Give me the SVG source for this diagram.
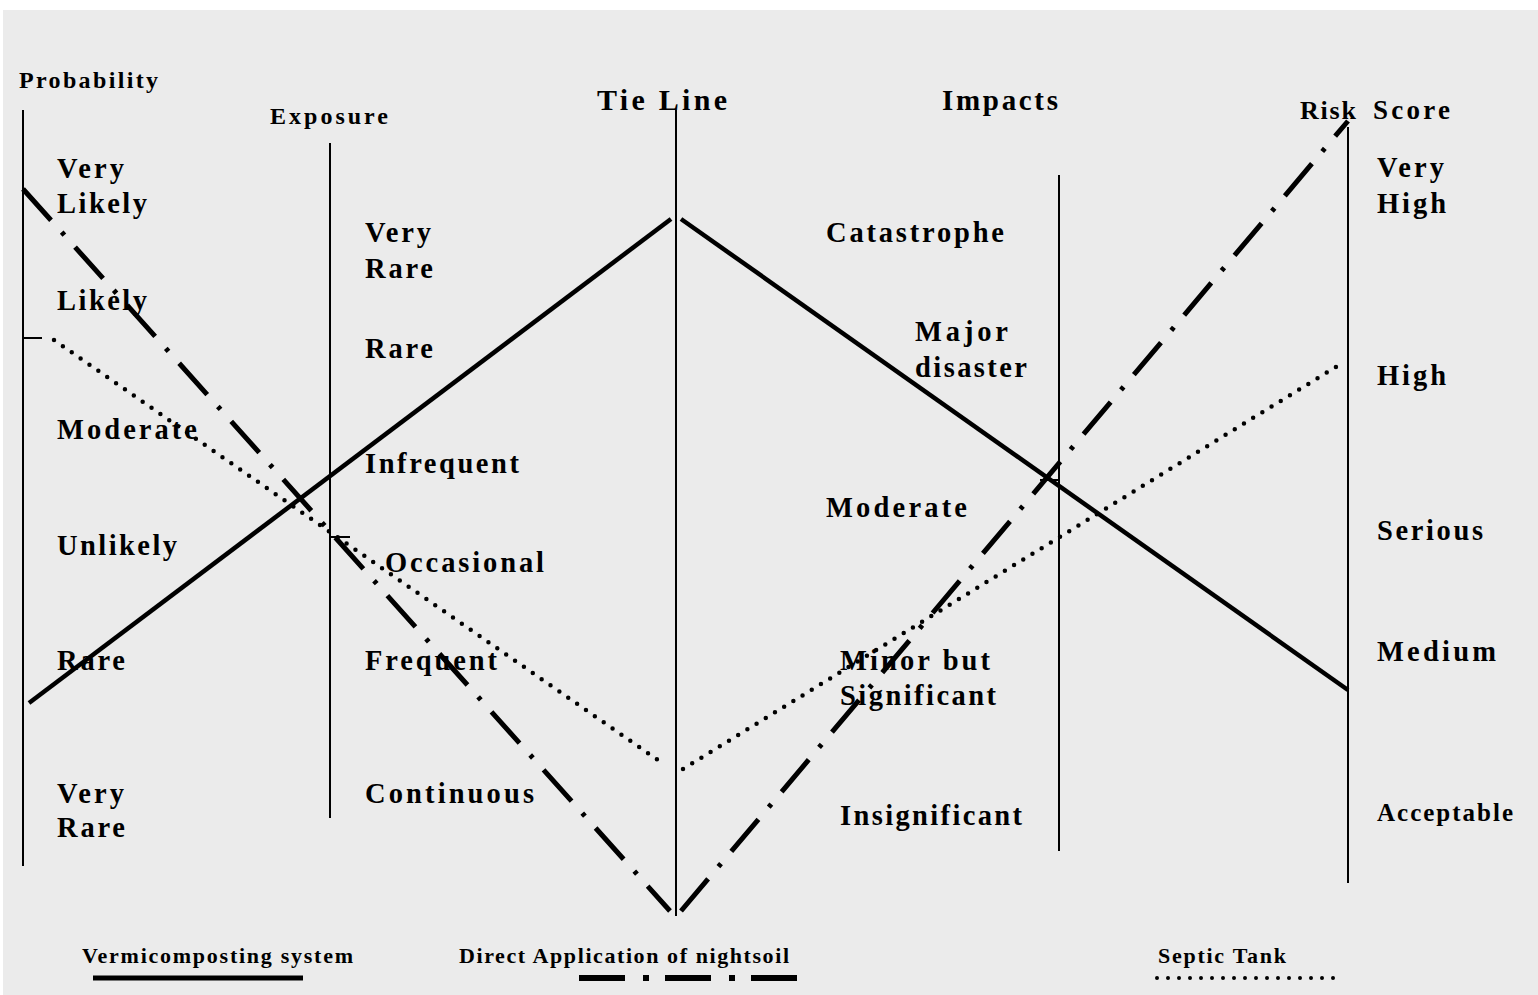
<svg xmlns="http://www.w3.org/2000/svg" width="1538" height="995" viewBox="0 0 1538 995">
<style>
text{font-family:"Liberation Serif","Times New Roman",serif;font-weight:bold;fill:#000}
.lab{font-size:28.5px}
.ttl{font-size:24px}
.leg{font-size:22px}
.axis{stroke:#000;stroke-width:2;fill:none}
.solid{stroke:#000;stroke-width:4.5;fill:none}
.dashdot{stroke:#000;stroke-width:5;fill:none;stroke-dasharray:42 16 4 16}
.dotted{stroke:#000;stroke-width:4.5;fill:none;stroke-linecap:round;stroke-dasharray:0 10.8}
</style>
<rect x="0" y="0" width="1538" height="995" fill="#ffffff"/>
<rect x="3" y="10" width="1535" height="985" fill="#ebebeb"/>

<g id="probability">
<line class="axis" x1="23" y1="110" x2="23" y2="866"/>
<line class="axis" x1="23" y1="338" x2="42" y2="338"/>
<text class="ttl" x="19" y="88" textLength="139">Probability</text>
<text class="lab" x="57" y="178" textLength="67">Very</text>
<text class="lab" x="57" y="213" textLength="90">Likely</text>
<text class="lab" x="57" y="310" textLength="90">Likely</text>
<text class="lab" x="57" y="439" textLength="140">Moderate</text>
<text class="lab" x="57" y="555" textLength="120">Unlikely</text>
<text class="lab" x="57" y="670" textLength="68">Rare</text>
<text class="lab" x="57" y="803" textLength="67">Very</text>
<text class="lab" x="57" y="837" textLength="68">Rare</text>
</g>

<g id="exposure">
<line class="axis" x1="330" y1="143" x2="330" y2="818"/>
<line class="axis" x1="330" y1="537" x2="350" y2="537"/>
<text class="ttl" x="270" y="124" textLength="118">Exposure</text>
<text class="lab" x="365" y="242" textLength="66">Very</text>
<text class="lab" x="365" y="278" textLength="68">Rare</text>
<text class="lab" x="365" y="358" textLength="68">Rare</text>
<text class="lab" x="365" y="473" textLength="154">Infrequent</text>
<text class="lab" x="385" y="572" textLength="159">Occasional</text>
<text class="lab" x="365" y="670" textLength="132">Frequent</text>
<text class="lab" x="365" y="803" textLength="169">Continuous</text>
</g>

<g id="tie-line">
<line class="axis" x1="676" y1="110" x2="676" y2="916"/>
<text class="lab" x="597" y="110" style="font-size:30px" textLength="130">Tie Line</text>
</g>

<g id="impacts">
<line class="axis" x1="1059" y1="175" x2="1059" y2="851"/>
<line class="axis" x1="1040" y1="480" x2="1059" y2="480"/>
<text class="lab" x="942" y="110" style="font-size:29px" textLength="116">Impacts</text>
<text class="lab" x="826" y="242" textLength="178">Catastrophe</text>
<text class="lab" x="915" y="341" textLength="93">Major</text>
<text class="lab" x="915" y="377" textLength="112">disaster</text>
<text class="lab" x="826" y="517" textLength="141">Moderate</text>
<text class="lab" x="840" y="670" textLength="150">Minor but</text>
<text class="lab" x="840" y="705" textLength="156">Significant</text>
<text class="lab" x="840" y="825" textLength="182">Insignificant</text>
</g>

<g id="risk-score">
<line class="axis" x1="1348" y1="127" x2="1348" y2="883"/>
<text class="lab" x="1300" y="119" style="font-size:26px" textLength="56">Risk</text>
<text class="lab" x="1373" y="119" style="font-size:27px" textLength="77">Score</text>
<text class="lab" x="1377" y="177" textLength="67">Very</text>
<text class="lab" x="1377" y="213" textLength="69">High</text>
<text class="lab" x="1377" y="385" textLength="69">High</text>
<text class="lab" x="1377" y="540" textLength="106">Serious</text>
<text class="lab" x="1377" y="661" textLength="119">Medium</text>
<text class="lab" x="1377" y="821" style="font-size:25px" textLength="136">Acceptable</text>
</g>

<g id="connectors">
<polyline class="solid" points="29,703 671,219"/>
<polyline class="solid" points="681,219 1348,690"/>
<polyline class="dashdot" points="23,189 670,911"/>
<polyline class="dashdot" points="681,911 1348,121"/>
<polyline class="dotted" points="54,340 665,765"/>
<polyline class="dotted" points="683,769 1339,365"/>
</g>

<g id="legend">
<text class="leg" x="82" y="963" textLength="271">Vermicomposting system</text>
<line class="solid" x1="93" y1="978" x2="303" y2="978" style="stroke-width:5"/>
<text class="leg" x="459" y="963" textLength="330">Direct Application of nightsoil</text>
<line class="dashdot" x1="579" y1="978" x2="797" y2="978" style="stroke-width:6;stroke-dasharray:46 18 6 16"/>
<text class="leg" x="1158" y="963" textLength="128">Septic Tank</text>
<line class="dotted" x1="1157" y1="978" x2="1340" y2="978" style="stroke-width:4;stroke-dasharray:0 11"/>
</g>
</svg>
